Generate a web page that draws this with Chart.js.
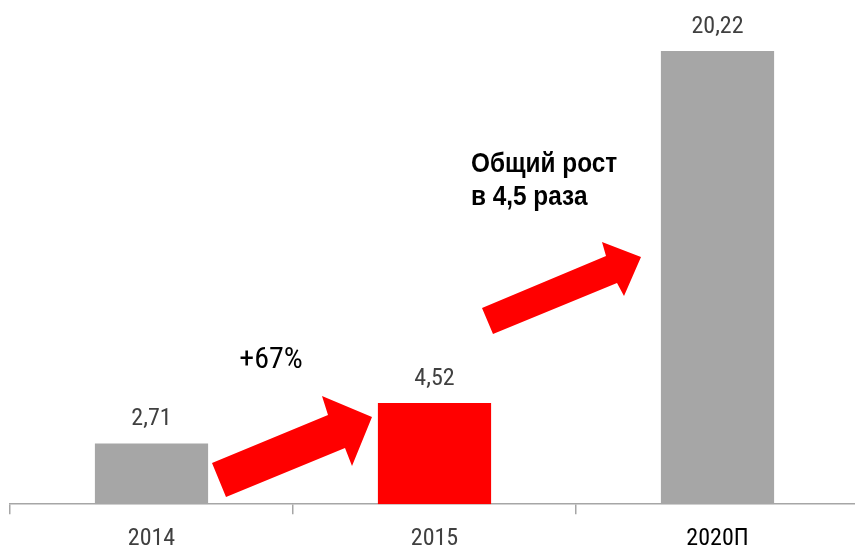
<!DOCTYPE html>
<html>
<head>
<meta charset="utf-8">
<script src="https://cdn.jsdelivr.net/npm/chart.js@4"></script>
<style>
  html, body { margin: 0; padding: 0; background: #fff; overflow: hidden; }
  #wrap { width: 862px; height: 563px; }
</style>
</head>
<body>
<div id="wrap"><canvas id="chart"></canvas></div>
<script>
// данные
const categories = ['2014', '2015', '2020П'];
const values = [2.71, 4.52, 20.22];
const valueLabels = ['2,71', '4,52', '20,22'];
const barColors = ['#a6a6a6', '#ff0000', '#a6a6a6'];

const NARROW = '"Liberation Sans Narrow", "Roboto Condensed", "Arial Narrow", sans-serif';

// подписи над столбцами, стрелки и комментарии
const decorPlugin = {
  id: 'decor',
  afterDatasetsDraw(chart) {
    const ctx = chart.ctx;
    const meta = chart.getDatasetMeta(0);
    ctx.save();
    ctx.fillStyle = '#404040';
    ctx.font = '24px ' + NARROW;
    ctx.textAlign = 'center';
    ctx.textBaseline = 'alphabetic';
    meta.data.forEach((bar, i) => {
      ctx.fillText(valueLabels[i], bar.x, bar.y - 18);
    });

    const arrows = [
      [[212, 463], [328, 415], [322, 396], [372, 417], [352, 466], [345, 448], [226, 497]],
      [[482, 308], [606, 256], [602, 242], [641, 257], [624, 296], [617, 283], [493, 334]]
    ];
    ctx.fillStyle = '#ff0000';
    arrows.forEach(poly => {
      ctx.beginPath();
      poly.forEach((p, k) => k ? ctx.lineTo(p[0], p[1]) : ctx.moveTo(p[0], p[1]));
      ctx.closePath();
      ctx.fill();
    });

    ctx.fillStyle = '#000';
    ctx.font = '30px ' + NARROW;
    ctx.textAlign = 'center';
    ctx.fillText('+67%', 271, 368);

    // жирный текст, чуть сжатый по горизонтали
    ctx.font = 'bold 28px "Liberation Sans", Arial, sans-serif';
    ctx.textAlign = 'left';
    ctx.translate(471, 0);
    ctx.scale(0.87, 1);
    ctx.fillText('Общий рост', 0, 172);
    ctx.fillText('в 4,5 раза', 0, 205);
    ctx.restore();
  }
};

const ctx = document.getElementById('chart').getContext('2d');
new Chart(ctx, {
  type: 'bar',
  data: {
    labels: categories,
    datasets: [{
      data: values,
      backgroundColor: barColors,
      barPercentage: 0.4,
      categoryPercentage: 1.0
    }]
  },
  options: {
    responsive: true,
    maintainAspectRatio: false,
    animation: false,
    layout: { padding: { left: 10, right: 3, top: 0, bottom: 0 } },
    plugins: { legend: { display: false }, tooltip: { enabled: false } },
    scales: {
      x: {
        grid: { display: true, drawOnChartArea: false, tickLength: 10, color: '#a6a6a6', lineWidth: 1.5 },
        border: { display: true, color: '#a6a6a6', width: 1.5 },
        ticks: {
          color: (c) => c.index === 2 ? '#000000' : '#404040',
          padding: 10,
          font: { family: NARROW, size: 24 }
        }
      },
      y: { display: false, min: 0, max: 22.5 }
    }
  },
  plugins: [decorPlugin]
});
</script>
</body>
</html>
